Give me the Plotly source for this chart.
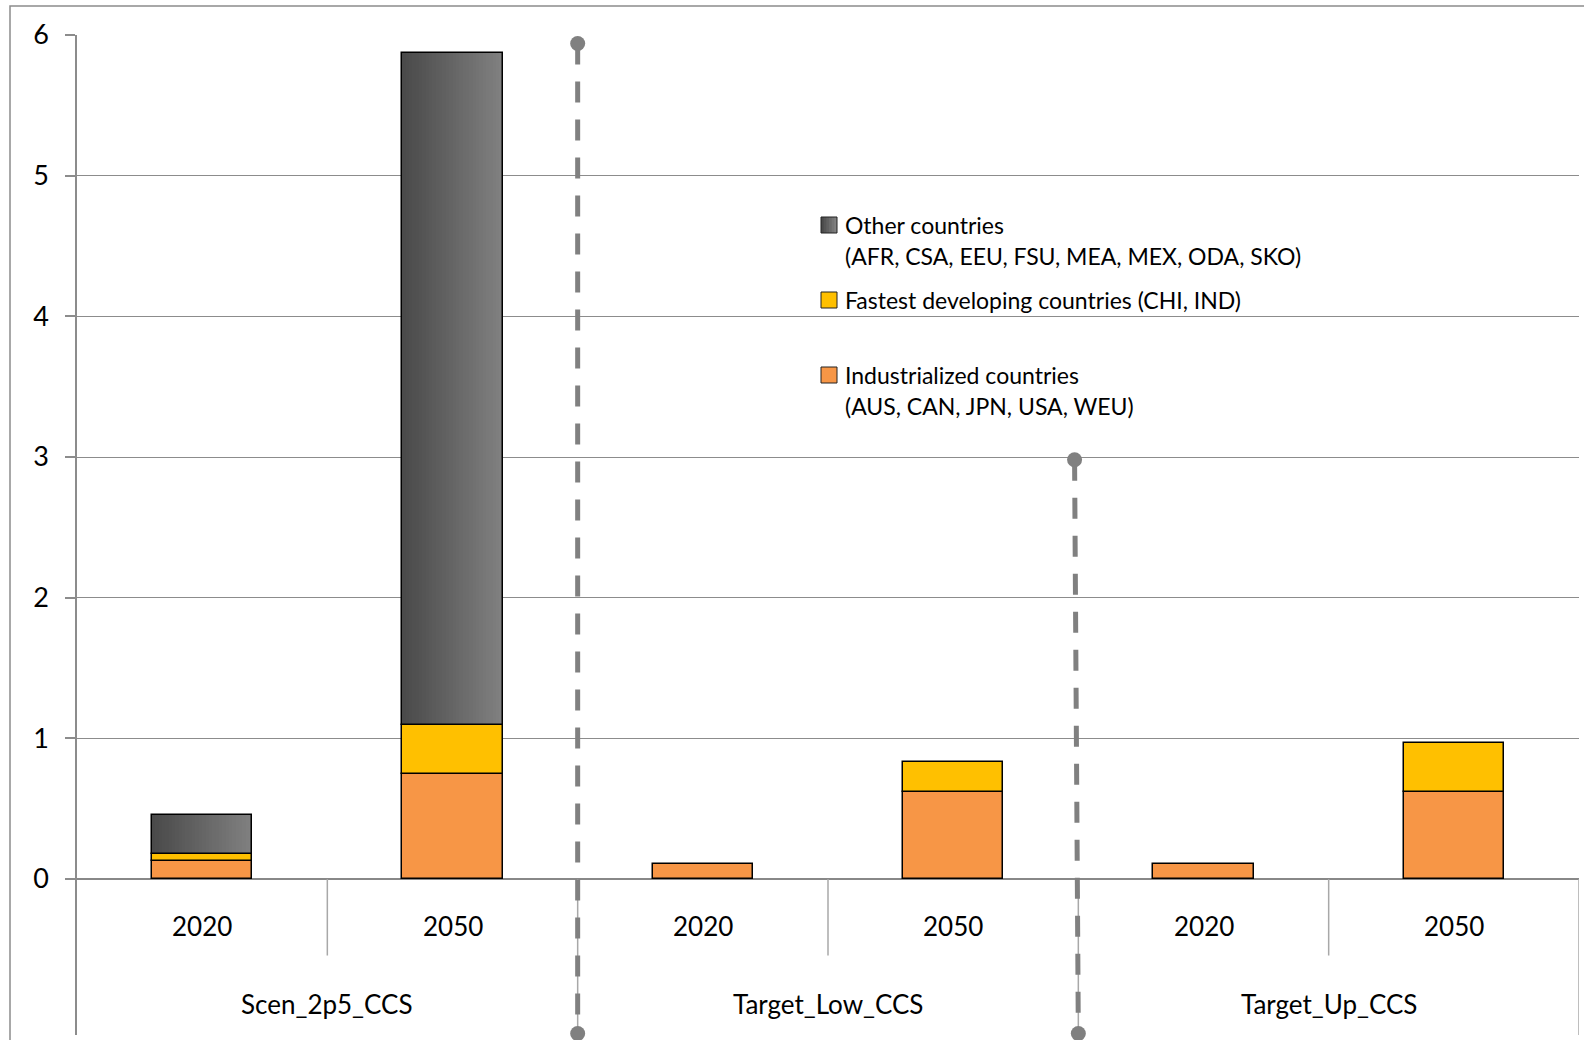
import plotly.graph_objects as go

# ---- data -------------------------------------------------------------
groups = ["Scen_2p5_CCS", "Target_Low_CCS", "Target_Up_CCS"]
years = ["2020", "2050"]
industrialized = [0.13, 0.75, 0.11, 0.62, 0.11, 0.62]
fastest = [0.045, 0.345, 0.0, 0.215, 0.0, 0.345]
other = [0.28, 4.78, 0.0, 0.0, 0.0, 0.0]
y_ticks = [0, 1, 2, 3, 4, 5, 6]

# dashed scenario dividers: x at top / bottom, top value, bottom value
divider_x_top = [1.5, 3.485]
divider_x_bottom = [1.5, 3.5]
divider_top = [5.94, 2.98]
divider_bottom = [-1.098, -1.098]

legend_labels = [
    ["Other countries", "(AFR, CSA, EEU, FSU, MEA, MEX, ODA, SKO)"],
    ["Fastest developing countries (CHI, IND)"],
    ["Industrialized countries", "(AUS, CAN, JPN, USA, WEU)"],
]

# ---- styling / geometry ----------------------------------------------
W, H = 1584, 1040
L, R, T, B = 77, 5, 35, 5
Y_UNIT_PX = 140.67
Y_MAX = 6
Y_MIN = Y_MAX - (H - T - B) / Y_UNIT_PX
BAR_W = 0.4
FONT = "Lato"
ORANGE = "#F79646"
YELLOW = "#FFC000"
GRID = "#8c8c8c"
SEP = "#a8a8a8"
DASH = "#808080"


def px_x(p):
    return (p - L) / (W - L - R)


def px_y(p):
    return (H - B - p) / (H - T - B)


def nz(vals):
    return [v if v > 0 else None for v in vals]


def grey(t):
    # left-to-right shading of the "other countries" segment
    a, b = 0x4a, 0x80
    v = round(a + (b - a) * t)
    return f"rgb({v},{v},{v})"


x = list(range(len(industrialized)))
base_yellow = industrialized
base_other = [a + b for a, b in zip(industrialized, fastest)]

fig = go.Figure()

fig.add_trace(go.Bar(
    x=x, y=industrialized, base=[0] * len(x), width=BAR_W,
    marker=dict(color=ORANGE, line=dict(color="black", width=1.5)),
    name="Industrialized countries", showlegend=False,
))
fig.add_trace(go.Bar(
    x=x, y=nz(fastest), base=base_yellow, width=BAR_W,
    marker=dict(color=YELLOW, line=dict(color="black", width=1.5)),
    name="Fastest developing countries", showlegend=False,
))

# gradient segment: overlapping slices, each reaching to the right edge
N = 30
for k in range(N):
    off = -BAR_W / 2 + k * BAR_W / N
    fig.add_trace(go.Bar(
        x=x, y=nz(other), base=base_other,
        width=BAR_W - k * BAR_W / N, offset=off,
        marker=dict(color=grey(k / (N - 1)), line=dict(width=0)),
        showlegend=False, hoverinfo="skip",
    ))
fig.add_trace(go.Bar(
    x=x, y=nz(other), base=base_other, width=BAR_W,
    marker=dict(color="rgba(0,0,0,0)", line=dict(color="black", width=1.5)),
    name="Other countries", showlegend=False,
))

for xt, xb, yt, yb in zip(divider_x_top, divider_x_bottom, divider_top, divider_bottom):
    fig.add_trace(go.Scatter(
        x=[xt, xb], y=[yt, yb], mode="lines+markers",
        line=dict(color=DASH, width=5, dash="21px,17px"),
        marker=dict(color=DASH, size=15),
        cliponaxis=False, showlegend=False, hoverinfo="skip",
    ))

shapes = []
# category axis separators
for xb in [0.5, 2.5, 4.5]:
    shapes.append(dict(type="line", xref="x", yref="y", x0=xb, x1=xb,
                       y0=0, y1=(878.5 - 955) / Y_UNIT_PX,
                       line=dict(color=SEP, width=1.5), layer="between"))
for xb in [1.5, 3.5, 5.5]:
    shapes.append(dict(type="line", xref="x", yref="y", x0=xb, x1=xb,
                       y0=0, y1=Y_MIN,
                       line=dict(color=SEP, width=1.5), layer="between"))

# chart frame (top and left edges)
shapes.append(dict(type="path", xref="paper", yref="paper",
                   path=f"M {px_x(10)} {px_y(1040)} L {px_x(10)} {px_y(6)} L {px_x(1590)} {px_y(6)}",
                   line=dict(color=GRID, width=1.5)))

annotations = []
for i in x:
    annotations.append(dict(text=years[i % 2], x=i, xref="x", y=px_y(926), yref="paper",
                            showarrow=False, xanchor="center", yanchor="middle",
                            font=dict(family=FONT, size=26, color="black")))
for g, name in enumerate(groups):
    annotations.append(dict(text=name, x=2 * g + 0.5, xref="x", y=px_y(1004), yref="paper",
                            showarrow=False, xanchor="center", yanchor="middle",
                            font=dict(family=FONT, size=26, color="black")))

# legend
legend_rows = [225, 300, 375]
line_gap = 31
box_fill = [None, YELLOW, ORANGE]
for row, lines, fill in zip(legend_rows, legend_labels, box_fill):
    y0, y1 = px_y(row + 8), px_y(row - 8)
    if fill is None:
        n = 6
        for k in range(n):
            shapes.append(dict(type="rect", xref="paper", yref="paper",
                               x0=px_x(821 + 16 * k / n), x1=px_x(837), y0=y0, y1=y1,
                               fillcolor=grey(k / (n - 1)), line=dict(width=0)))
        shapes.append(dict(type="rect", xref="paper", yref="paper",
                           x0=px_x(821), x1=px_x(837), y0=y0, y1=y1,
                           line=dict(color="#222", width=1)))
    else:
        shapes.append(dict(type="rect", xref="paper", yref="paper",
                           x0=px_x(821), x1=px_x(837), y0=y0, y1=y1,
                           fillcolor=fill, line=dict(color="#222", width=1)))
    for j, txt in enumerate(lines):
        annotations.append(dict(text=txt, x=px_x(843), xref="paper",
                                y=px_y(row + j * line_gap), yref="paper",
                                showarrow=False, xanchor="left", yanchor="middle",
                                font=dict(family=FONT, size=23, color="black")))

fig.update_layout(
    width=W, height=H,
    margin=dict(l=L, r=R, t=T, b=B, autoexpand=False),
    paper_bgcolor="white", plot_bgcolor="white",
    barmode="overlay", bargap=0,
    showlegend=False,
    shapes=shapes, annotations=annotations,
    xaxis=dict(range=[-0.5, 5.5], visible=False),
    yaxis=dict(
        range=[Y_MIN, Y_MAX], tickvals=y_ticks, ticktext=[str(v) for v in y_ticks],
        showgrid=True, gridcolor=GRID, gridwidth=1.3,
        zeroline=True, zerolinecolor="#888888", zerolinewidth=2,
        showline=True, linecolor=GRID, linewidth=1.5,
        ticks="outside", ticklen=10, tickcolor=GRID, tickwidth=1.5,
        ticklabelstandoff=11,
        tickfont=dict(family=FONT, size=27, color="black"),
    ),
)

fig.write_html("out.html")
